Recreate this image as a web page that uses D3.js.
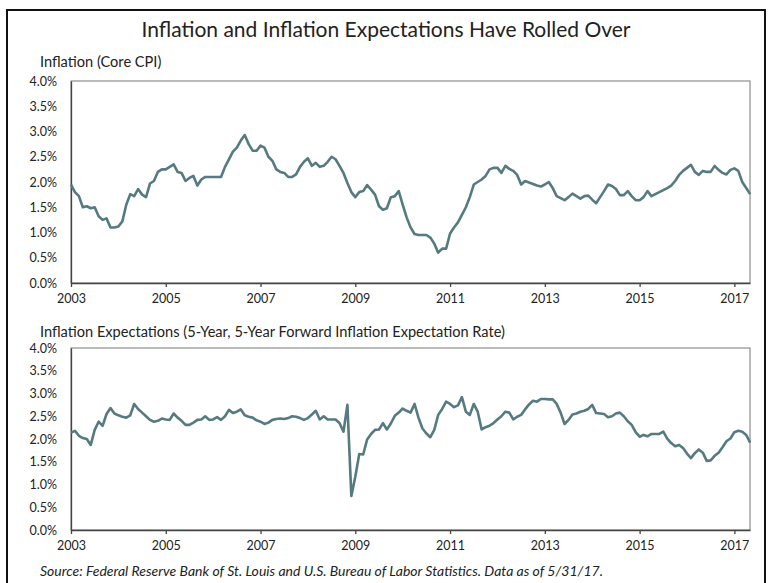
<!doctype html>
<html>
  <head>
    <title>Inflation and Inflation Expectations</title>
    <style>
      body { margin: 0; background: #fff; }
      text { font-family: Lato, 'Open Sans', sans-serif; fill: #222; }
    </style>
  </head>
  <body>
    <svg width='772' height='583'></svg>

  <script src='https://d3js.org/d3.v7.min.js'></script>
  <script>
// Monthly values, Jan 2003 onward (percent).
var startYear = 2003;
var coreCpi = [
  1.95, 1.80, 1.72, 1.50, 1.52, 1.48, 1.50, 1.32, 1.25, 1.28, 1.10, 1.10,
  1.12, 1.22, 1.55, 1.76, 1.72, 1.86, 1.75, 1.70, 1.97, 2.02, 2.20, 2.25,
  2.25, 2.30, 2.35, 2.20, 2.18, 2.02, 2.08, 2.12, 1.93, 2.05, 2.10, 2.10,
  2.10, 2.10, 2.10, 2.30, 2.45, 2.60, 2.68, 2.82, 2.93, 2.75, 2.62, 2.62,
  2.72, 2.68, 2.50, 2.42, 2.25, 2.20, 2.18, 2.10, 2.10, 2.15, 2.30, 2.40,
  2.47, 2.32, 2.38, 2.30, 2.32, 2.40, 2.50, 2.45, 2.32, 2.18, 1.98, 1.80,
  1.70, 1.80, 1.82, 1.94, 1.85, 1.75, 1.52, 1.45, 1.48, 1.70, 1.72, 1.82,
  1.55, 1.30, 1.10, 0.97, 0.95, 0.95, 0.95, 0.90, 0.78, 0.60, 0.68, 0.68,
  0.98, 1.10, 1.20, 1.35, 1.50, 1.70, 1.95, 2.00, 2.05, 2.12, 2.25, 2.28,
  2.28, 2.18, 2.32, 2.26, 2.22, 2.14, 1.95, 2.02, 1.99, 1.96, 1.93, 1.91,
  1.95, 2.00, 1.88, 1.72, 1.68, 1.64, 1.70, 1.77, 1.72, 1.67, 1.72, 1.73,
  1.65, 1.58, 1.70, 1.82, 1.95, 1.92, 1.86, 1.74, 1.74, 1.82, 1.72, 1.64,
  1.64, 1.70, 1.82, 1.72, 1.76, 1.80, 1.84, 1.88, 1.93, 2.02, 2.14, 2.22,
  2.28, 2.34, 2.20, 2.14, 2.22, 2.20, 2.20, 2.32, 2.24, 2.18, 2.15, 2.24,
  2.27, 2.22, 2.00, 1.88, 1.76
];
var fiveYearForward = [
  2.14, 2.18, 2.07, 2.02, 2.00, 1.87, 2.20, 2.38, 2.29, 2.55, 2.68, 2.56,
  2.52, 2.49, 2.47, 2.52, 2.77, 2.66, 2.58, 2.50, 2.42, 2.38, 2.40, 2.45,
  2.43, 2.42, 2.56, 2.47, 2.40, 2.31, 2.31, 2.36, 2.42, 2.43, 2.50, 2.42,
  2.43, 2.48, 2.42, 2.50, 2.64, 2.57, 2.60, 2.65, 2.52, 2.49, 2.47, 2.41,
  2.38, 2.33, 2.36, 2.42, 2.44, 2.45, 2.44, 2.46, 2.50, 2.49, 2.46, 2.42,
  2.46, 2.54, 2.62, 2.43, 2.50, 2.43, 2.43, 2.43, 2.35, 2.16, 2.75, 0.75,
  1.17, 1.67, 1.66, 1.99, 2.11, 2.20, 2.21, 2.35, 2.21, 2.34, 2.51, 2.58,
  2.67, 2.62, 2.58, 2.77, 2.47, 2.23, 2.12, 2.04, 2.20, 2.53, 2.66, 2.82,
  2.77, 2.70, 2.74, 2.92, 2.60, 2.53, 2.77, 2.60, 2.21, 2.26, 2.29, 2.35,
  2.43, 2.50, 2.60, 2.58, 2.43, 2.49, 2.53, 2.65, 2.76, 2.84, 2.82, 2.88,
  2.88, 2.87, 2.87, 2.77, 2.58, 2.33, 2.42, 2.54, 2.56, 2.60, 2.62, 2.66,
  2.75, 2.57, 2.56, 2.55, 2.48, 2.50, 2.56, 2.58, 2.50, 2.39, 2.31, 2.15,
  2.05, 2.09, 2.06, 2.11, 2.11, 2.11, 2.16, 2.01, 1.91, 1.84, 1.87, 1.80,
  1.68, 1.58, 1.69, 1.77, 1.70, 1.52, 1.53, 1.63, 1.70, 1.82, 1.95, 2.01,
  2.15, 2.18, 2.16, 2.09, 1.92
];
var yearTicks = [2003, 2005, 2007, 2009, 2011, 2013, 2015, 2017];
var pctTicks = [0, 0.5, 1, 1.5, 2, 2.5, 3, 3.5, 4];

var svg = d3.select('svg');
var lineColor = '#557a80';

// outer frame (open at the bottom)
svg.append('path')
  .attr('d', 'M7,600V10H765V600')
  .attr('fill', 'none')
  .attr('stroke', '#111')
  .attr('stroke-width', 2);

svg.append('text')
  .attr('x', 386).attr('y', 37)
  .attr('text-anchor', 'middle')
  .style('font-size', '21px')
  .text('Inflation and Inflation Expectations Have Rolled Over');

var x = d3.scaleLinear().domain([2003, 2017.33]).range([71, 750]);

function panel(values, top, bottom, label, labelY) {
  var y = d3.scaleLinear().domain([0, 4]).range([bottom, top]);

  svg.append('text')
    .attr('x', 40).attr('y', labelY)
    .style('font-size', '14.6px')
    .text(label);

  svg.append('rect')
    .attr('x', 71).attr('y', top)
    .attr('width', 679).attr('height', bottom - top)
    .attr('fill', 'none')
    .attr('stroke', '#777')
    .attr('stroke-width', 1);

  var xa = svg.append('g')
    .attr('transform', 'translate(0,' + bottom + ')')
    .call(d3.axisBottom(x).tickValues(yearTicks).tickFormat(d3.format('d'))
      .tickSize(4).tickSizeOuter(0).tickPadding(7));
  var ya = svg.append('g')
    .attr('transform', 'translate(71,0)')
    .call(d3.axisLeft(y).tickValues(pctTicks)
      .tickFormat(function(d) { return d.toFixed(1) + '%'; })
      .tickSize(0).tickPadding(14));
  [xa, ya].forEach(function(g) {
    g.selectAll('path, line').attr('stroke', '#444').attr('stroke-width', 1.3);
    g.selectAll('text').style('font-size', '12.5px').attr('fill', '#222')
      .style('font-family', 'Lato, sans-serif');
  });

  var line = d3.line()
    .x(function(d, i) { return x(startYear + i / 12); })
    .y(function(d) { return y(d); });

  svg.append('path')
    .datum(values)
    .attr('d', line)
    .attr('fill', 'none')
    .attr('stroke', lineColor)
    .attr('stroke-width', 2.6)
    .attr('stroke-linejoin', 'round');
}

panel(coreCpi, 81, 283, 'Inflation (Core CPI)', 67);
panel(fiveYearForward, 348, 530,
  'Inflation Expectations (5-Year, 5-Year Forward Inflation Expectation Rate)', 337);

svg.append('text')
  .attr('x', 40).attr('y', 576)
  .style('font-size', '14px')
  .style('font-style', 'italic')
  .text('Source: Federal Reserve Bank of St. Louis and U.S. Bureau of Labor Statistics. Data as of 5/31/17.');
  </script>
  </body>
</html>
